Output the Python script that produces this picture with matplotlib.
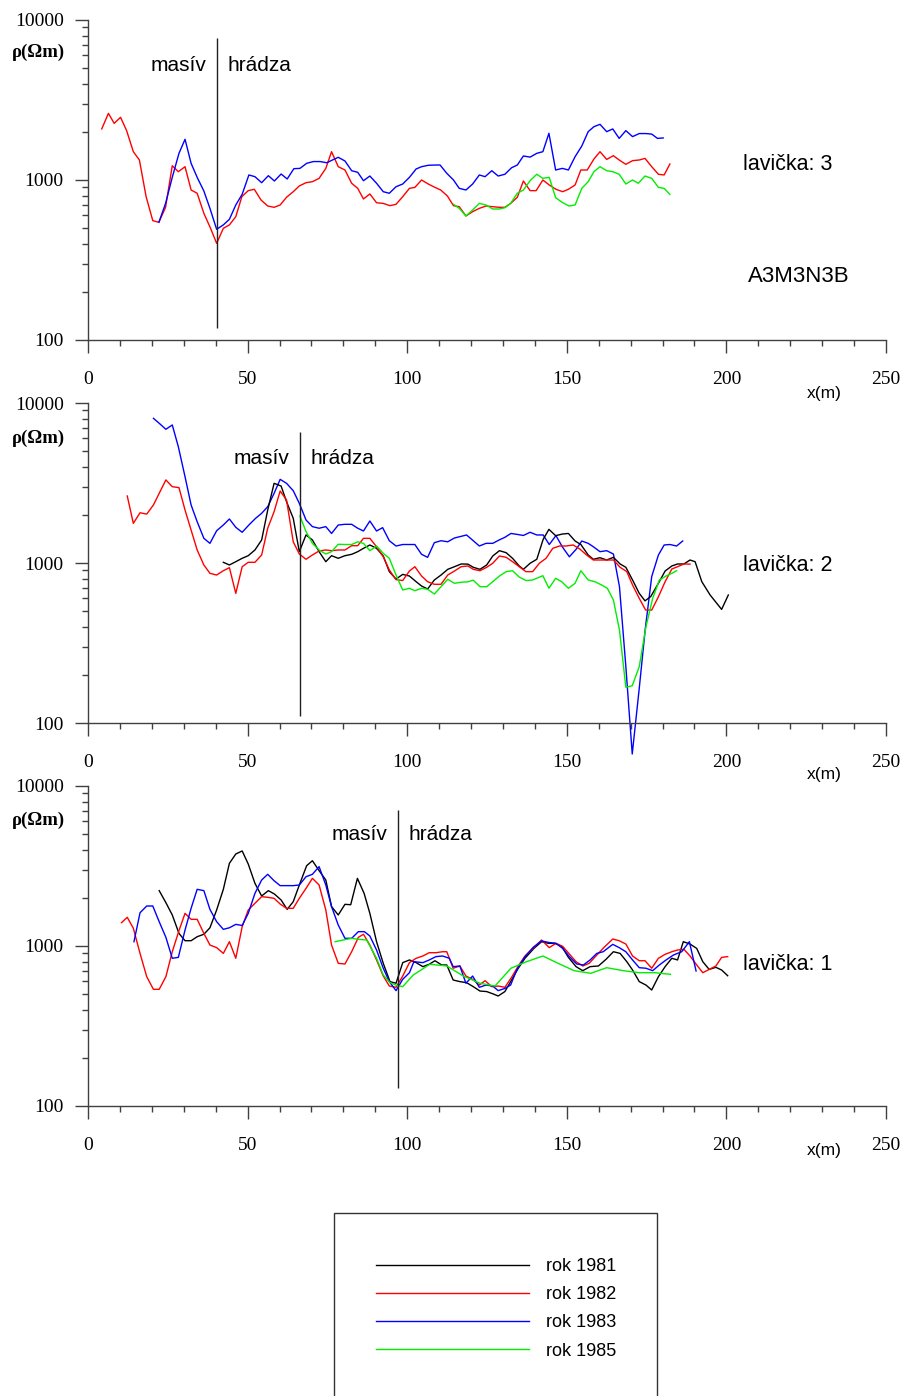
import matplotlib
matplotlib.use("Agg")
import matplotlib.pyplot as plt
from matplotlib.patches import Rectangle
from matplotlib.ticker import FixedLocator, MultipleLocator, NullFormatter, LogLocator

# ---------------- data ----------------
years = ["rok 1981", "rok 1982", "rok 1983", "rok 1985"]
year_colors = ["#000000", "#ff0000", "#0000ff", "#00ee00"]

# lavička 3 (top panel)
l3_x_1982 = [4.3,6.4,8.2,10.2,12.1,14.2,16.1,18.2,20.3,22.2,
             24.3,26.4,28.3,30.4,32.3,34.2,36.3,38.4,40.3,42.4,
             44.3,46.3,48.2,50.2,52.1,54.2,56.3,58.3,60.2,62.2,
             64.3,66.2,68.3,70.3,72.4,74.5,76.3,78.4,80.5,82.6,
             84.5,86.3,88.3,90.4,92.5,94.6,96.5,98.6,100.7,102.4,
             104.5,106.6,108.7,110.5,112.6,114.5,116.3,118.4,120.5,122.6,
             124.7,126.8,128.9,130.6,132.4,134.5,136.4,138.5,140.4,142.5,
             144.5,146.6,148.7,150.5,152.6,154.4,156.4,158.5,160.4,162.5,
             164.6,166.4,168.5,170.6,172.7,174.5,176.6,178.7,180.5,182.3]
l3_y_1982 = [2085,2610,2260,2465,2034,1503,1334,787,557,544,
             675,1228,1127,1211,866,826,619,499,402,499,
             524,590,787,858,875,750,688,675,698,780,
             845,918,962,976,1024,1182,1503,1211,1155,954,
             887,761,818,721,714,691,705,787,887,899,
             1000,944,899,866,794,691,681,596,634,665,
             688,681,675,675,714,780,986,858,858,1000,
             931,875,845,875,931,1155,1155,1352,1503,1345,
             1419,1334,1253,1321,1334,1365,1211,1086,1075,1259]
l3_x_1983 = [22.2,24.3,26.4,28.5,30.4,32.3,34.2,36.3,38.2,40.3,
             42.4,44.3,46.3,48.3,50.4,52.3,54.4,56.5,58.4,60.5,
             62.4,64.5,66.4,68.5,70.6,72.7,74.8,76.6,78.4,80.5,
             82.6,84.5,86.3,88.3,90.4,92.5,94.4,96.5,98.6,100.7,
             102.8,104.5,106.6,108.5,110.3,112.4,114.5,116.3,118.4,120.5,
             122.6,124.4,126.5,128.5,130.6,132.7,134.5,136.4,138.5,140.6,
             142.5,144.4,146.5,148.6,150.5,152.6,154.7,156.7,158.5,160.4,
             162.5,164.4,166.4,168.5,170.6,172.7,174.8,176.6,178.4,180.2]
l3_y_1983 = [544,714,1039,1468,1796,1271,1039,853,665,492,
             524,568,698,814,1075,1049,962,1064,986,1090,
             1015,1177,1182,1271,1304,1304,1282,1334,1386,1315,
             1143,1117,990,1059,954,845,826,908,944,1039,
             1172,1211,1236,1240,1241,1101,1000,887,866,944,
             1075,1049,1143,1059,1086,1193,1241,1413,1390,1468,
             1503,1958,1155,1182,1155,1399,1631,2005,2154,2228,
             2005,2085,1820,2034,1867,1951,1951,1936,1820,1832]
l3_x_1985 = [114.5,116.3,118.4,120.5,122.6,124.7,126.8,128.9,130.6,132.4,
             134.5,136.4,138.5,140.6,142.5,144.5,146.5,148.6,150.7,152.6,
             154.7,156.7,158.5,160.4,162.5,164.4,166.4,168.5,170.6,172.4,
             174.5,176.6,178.7,180.5,182.3]
l3_y_1985 = [705,665,596,649,714,698,659,659,671,714,
             826,866,990,1086,1024,1039,775,724,688,698,
             887,976,1127,1211,1143,1127,1086,944,1000,954,
             1059,1024,899,887,813]

# lavička 2 (middle panel)
l2_x_1981 = [42.4,44.3,46.3,48.3,50.2,52.3,54.4,56.3,58.3,60.5,
             62.2,64.3,66.2,68.3,70.3,72.4,74.5,76.3,78.4,80.5,
             82.6,84.5,86.3,88.3,90.4,92.5,94.4,96.5,98.6,100.7,
             102.8,104.5,106.4,108.5,110.6,112.7,114.8,116.9,119.0,120.7,
             122.8,124.9,126.8,128.9,131.0,133.0,135.1,136.4,138.5,140.6,
             142.6,144.4,146.5,148.6,150.5,152.6,154.4,156.7,158.3,160.4,
             162.5,164.6,166.7,168.5,170.6,172.7,174.5,176.3,178.7,180.8,
             182.9,184.7,186.7,188.6,190.2,192.3,194.9,198.5,200.6]
l2_y_1981 = [1010,972,1019,1070,1111,1206,1393,2143,3148,3027,
             2416,1902,1177,1497,1393,1177,1019,1111,1070,1111,
             1133,1177,1235,1296,1235,1106,883,794,849,829,
             764,718,688,783,841,913,948,986,984,940,
             913,972,1106,1194,1160,1070,958,913,996,1055,
             1406,1623,1482,1517,1530,1372,1305,1122,1055,1079,
             1044,1085,986,940,783,646,580,617,747,891,
             958,986,986,1044,1019,764,631,513,631]
l2_x_1982 = [12.3,14.2,16.3,18.4,20.5,22.3,24.4,26.4,28.5,30.4,
             32.3,34.2,36.3,38.2,40.3,42.4,44.3,46.3,48.3,50.2,
             52.3,54.4,56.3,58.3,60.2,62.2,64.3,66.2,68.3,70.3,
             72.4,74.5,76.3,78.4,80.5,82.6,84.5,86.3,88.3,90.4,
             92.5,94.4,96.5,98.6,100.7,102.4,104.5,106.4,108.5,110.6,
             112.7,114.8,116.9,119.0,120.7,122.8,124.9,126.8,128.9,131.0,
             133.0,135.1,137.2,139.3,141.4,143.5,145.6,147.7,149.7,152.0,
             154.1,156.2,158.3,160.4,162.5,164.6,166.7,168.8,170.6,172.7,
             174.7,176.6,178.7,180.8,182.9,184.7,186.7,188.6]
l2_y_1982 = [2624,1770,2060,2022,2305,2725,3306,2999,2958,2143,
             1607,1206,972,862,841,895,935,646,948,1010,
             1010,1122,1649,2093,2818,2477,1357,1138,1055,1122,
             1189,1206,1194,1206,1206,1283,1283,1426,1426,1264,
             1094,904,787,777,891,948,829,764,736,736,
             841,891,948,958,913,895,940,996,1106,1085,
             1019,948,883,883,996,1070,1235,1277,1277,1296,
             1222,1122,1044,1044,1044,1044,940,883,729,601,
             508,508,615,764,917,948,986,984]
l2_x_1983 = [20.5,22.3,24.4,26.4,28.3,30.4,32.3,34.2,36.3,38.2,
             40.3,42.4,44.3,46.3,48.3,50.4,52.5,54.4,56.3,58.3,
             60.2,62.2,64.3,66.2,68.3,70.3,72.4,74.5,76.3,78.4,
             80.5,82.6,84.5,86.3,88.3,90.4,92.3,94.4,96.5,98.6,
             100.5,102.4,104.5,106.4,108.5,110.6,112.7,114.8,116.8,118.6,
             120.7,122.6,124.7,126.8,128.9,130.6,132.5,134.3,136.4,138.5,
             140.6,142.6,144.5,146.6,148.7,150.8,152.9,154.7,156.7,158.3,
             160.4,162.5,164.6,166.5,168.5,170.5,172.7,174.6,176.6,178.7,
             180.5,182.3,184.4,186.3]
l2_y_1983 = [8020,7470,6850,7290,5330,3460,2305,1812,1426,1327,
             1591,1728,1884,1671,1556,1728,1902,2044,2249,2725,
             3333,3148,2830,2360,1857,1688,1649,1688,1530,1728,
             1745,1745,1649,1585,1830,1585,1663,1378,1277,1305,
             1305,1305,1133,1085,1340,1378,1357,1433,1466,1497,
             1378,1277,1327,1327,1396,1447,1530,1511,1486,1556,
             1497,1497,1305,1483,1253,1094,1217,1372,1327,1264,
             1177,1194,1138,711,225,64,165,390,822,1122,
             1296,1305,1277,1372]
l2_x_1985 = [66.4,68.3,70.3,72.4,74.5,76.3,78.4,80.5,82.6,84.5,
             86.3,88.3,90.4,92.5,94.4,96.5,98.6,100.7,102.4,104.5,
             106.4,108.5,110.6,112.7,114.8,116.9,119.0,120.7,122.8,124.9,
             126.8,128.9,131.0,133.0,135.1,137.2,139.3,142.5,144.4,
             146.5,148.4,150.5,152.6,154.4,156.7,158.8,160.9,162.7,164.6,
             166.5,168.5,170.5,172.7,174.8,176.9,179.0,181.1,182.9,184.4]
l2_y_1985 = [1967,1572,1327,1206,1138,1177,1309,1305,1305,1357,
             1327,1194,1277,1149,1070,841,678,695,671,695,
             685,640,711,791,747,758,763,781,711,711,
             764,829,883,895,817,777,783,833,695,
             802,764,695,747,895,783,764,729,695,587,
             381,167,171,225,400,601,783,829,862,895]

# lavička 1 (bottom panel)
l1_x_1981 = [22.3,24.4,26.4,28.5,30.4,32.3,34.2,36.3,38.2,40.3,
             42.4,44.3,46.3,48.3,50.2,52.3,54.4,56.5,58.4,60.5,
             62.4,64.3,66.4,68.5,70.3,72.4,74.5,76.3,78.4,80.5,
             82.3,84.4,86.5,88.3,90.4,92.5,94.6,96.5,98.6,100.7,
             102.8,104.9,106.9,108.7,110.8,112.4,114.4,116.5,118.6,120.7,
             122.8,124.9,127.0,128.5,130.6,132.7,134.8,136.9,139.7,142.1,
             144.2,146.3,148.4,150.5,152.9,155.0,157.3,159.9,162.3,164.6,
             166.7,168.8,170.6,172.7,174.8,176.6,178.7,180.8,182.9,184.7,
             186.5,188.6,190.7,192.6,194.6,196.7,198.5,200.4]
l1_y_1981 = [2218,1866,1563,1199,1079,1079,1143,1184,1300,1679,
             2261,3288,3758,3926,3254,2464,2054,2218,2113,1939,
             1694,1893,2464,3176,3412,2958,2585,1763,1563,1822,
             1811,2647,2133,1600,1064,779,599,585,787,818,
             787,743,769,809,761,761,613,599,590,557,
             523,519,501,487,519,613,726,838,966,1064,
             1039,1039,995,849,743,701,743,750,826,921,
             899,798,708,599,570,531,643,743,838,818,
             1064,1029,966,798,714,736,708,652]
l1_x_1982 = [10.5,12.3,14.2,16.3,18.4,20.5,22.3,24.4,26.4,28.5,
             30.4,32.3,34.2,36.3,38.2,40.3,42.4,44.3,46.3,48.3,
             50.2,52.3,54.4,56.3,58.3,60.2,62.2,64.3,66.2,68.3,
             70.3,72.4,74.5,76.3,78.4,80.5,82.6,84.7,86.3,88.3,
             90.4,92.5,94.4,96.5,98.6,100.7,102.8,104.9,106.9,109.0,
             111.1,112.4,114.4,116.5,118.4,120.5,122.6,124.4,126.5,128.5,
             130.6,132.7,134.8,136.9,139.7,142.1,144.5,146.6,148.7,150.8,
             152.9,155.0,157.0,159.4,161.7,164.4,166.4,168.5,170.6,172.7,
             174.5,176.6,178.7,180.8,182.9,184.7,186.7,188.6,190.7,192.6,
             194.6,196.7,198.5,200.4]
l1_y_1982 = [1399,1511,1291,899,643,536,536,643,921,1247,
             1600,1468,1468,1199,1014,977,899,1064,838,1321,
             1679,1849,2034,2015,1986,1830,1720,1720,1986,2291,
             2647,2405,1679,1014,779,772,921,1133,1184,1014,
             818,649,562,552,649,787,838,866,908,908,
             921,921,726,750,649,619,570,607,557,562,
             552,637,750,866,982,1090,977,1039,995,891,
             798,750,779,878,982,1106,1079,1029,866,809,
             809,726,838,887,921,944,953,866,761,681,
             714,750,849,858]
l1_x_1983 = [14.4,16.3,18.4,20.3,22.3,24.4,26.4,28.3,30.4,32.3,
             34.2,36.3,38.2,40.3,42.4,44.3,46.3,48.3,50.2,52.3,
             54.4,56.3,58.3,60.2,62.2,64.3,66.2,68.3,70.3,72.4,
             74.5,76.3,78.4,80.5,82.6,84.7,86.6,88.3,90.4,92.5,
             94.4,96.5,98.6,100.7,102.1,104.9,106.9,109.0,111.1,113.2,
             114.4,116.5,118.4,120.5,122.6,124.7,126.8,128.5,130.6,132.4,
             134.3,136.9,139.5,142.1,144.5,146.6,148.7,150.8,153.1,155.2,
             157.3,159.4,161.4,164.4,166.4,168.5,170.6,172.7,174.8,176.9,
             179.0,181.1,183.4,186.0,188.4,190.5]
l1_y_1983 = [1064,1614,1778,1778,1419,1133,838,849,1259,1720,
             2261,2218,1694,1419,1271,1300,1365,1344,1600,2133,
             2585,2806,2558,2384,2384,2384,2405,2710,2806,3133,
             2405,1763,1352,1117,1117,1229,1229,1155,944,726,
             599,526,619,681,798,787,818,858,866,838,
             743,750,585,649,552,570,562,526,543,570,
             708,858,982,1075,1051,1039,966,858,772,761,
             818,899,921,1024,977,921,818,732,726,701,
             761,818,878,921,1064,698]
l1_x_1985 = [77.4,80.0,82.6,84.7,87.3,90.4,92.5,94.6,96.5,98.6,
             101.9,107.1,112.4,117.6,122.8,127.5,132.5,137.4,142.5,147.3,
             152.3,157.5,162.5,167.7,172.7,177.6,182.5]
l1_y_1985 = [1064,1090,1117,1101,1090,838,659,590,570,557,
             659,769,750,649,585,562,726,798,866,779,
             701,675,732,701,681,681,665]

panel_names = ["lavička: 3", "lavička: 2", "lavička: 1"]
divider_x = [40.4, 66.4, 97.1]
divider_top = [7720, 6590, 7080]
divider_bottom = [119, 111, 130]
x_ticks = [0, 50, 100, 150, 200, 250]
y_ticks = [100, 1000, 10000]

series = [
    [(l3_x_1982, l3_y_1982, 1), (l3_x_1983, l3_y_1983, 2), (l3_x_1985, l3_y_1985, 3)],
    [(l2_x_1983, l2_y_1983, 2), (l2_x_1981, l2_y_1981, 0), (l2_x_1982, l2_y_1982, 1), (l2_x_1985, l2_y_1985, 3)],
    [(l1_x_1981, l1_y_1981, 0), (l1_x_1982, l1_y_1982, 1), (l1_x_1983, l1_y_1983, 2), (l1_x_1985, l1_y_1985, 3)],
]

# ---------------- figure ----------------
W, H = 906, 1396
fig = plt.figure(figsize=(W / 100, H / 100), dpi=100)

serif = ["Liberation Serif", "DejaVu Serif"]
sans = ["Liberation Sans", "DejaVu Sans"]
spine_c = "#404040"

panel_px = [(20, 340), (403, 723), (786, 1106)]
masiv_yf = [0.859, 0.828, 0.847]
lav_yf = [0.547, 0.491, 0.441]
xm_yf = [-0.166, -0.1625, -0.14]
rho_yf = [0.90, 0.89, 0.894]

legend_lines = {}
for i in range(3):
    top, bot = panel_px[i]
    ax = fig.add_axes([88 / W, 1 - bot / H, 798 / W, (bot - top) / H])
    for (xs, ys, k) in series[i]:
        ln, = ax.plot(xs, ys, color=year_colors[k], lw=1.0, clip_on=False)
        legend_lines[k] = ln
    ax.set_yscale("log")
    ax.set_xlim(0, 250)
    ax.set_ylim(100, 10000)
    for s in ["top", "right"]:
        ax.spines[s].set_visible(False)
    for s in ["left", "bottom"]:
        ax.spines[s].set_color(spine_c)
        ax.spines[s].set_linewidth(1.0)
    ax.xaxis.set_major_locator(FixedLocator(x_ticks))
    ax.xaxis.set_minor_locator(MultipleLocator(10))
    ax.set_xticklabels([str(t) for t in x_ticks])
    ax.yaxis.set_major_locator(FixedLocator(y_ticks))
    ax.yaxis.set_minor_locator(LogLocator(base=10, subs=range(2, 10)))
    ax.yaxis.set_minor_formatter(NullFormatter())
    ax.set_yticklabels([str(t) for t in y_ticks])
    ax.tick_params(axis="x", which="major", direction="out", length=9, width=1,
                   color=spine_c, pad=13)
    ax.tick_params(axis="x", which="minor", direction="out", length=4.5, width=1,
                   color=spine_c)
    ax.tick_params(axis="y", which="major", direction="out", length=9.5, width=1,
                   color=spine_c, pad=8)
    ax.tick_params(axis="y", which="minor", direction="out", length=4.5, width=1,
                   color=spine_c)
    for lab in ax.get_xticklabels() + ax.get_yticklabels():
        lab.set_fontfamily(serif)
        lab.set_fontsize(14)
    ax.patch.set_alpha(0)

    ax.vlines(divider_x[i], divider_bottom[i], divider_top[i], color="#202020", lw=1.0)
    ax.text(divider_x[i] - 3.2, masiv_yf[i], "masív", transform=ax.get_xaxis_transform(),
            ha="right", va="center", fontsize=15, family=sans)
    ax.text(divider_x[i] + 3.3, masiv_yf[i], "hrádza", transform=ax.get_xaxis_transform(),
            ha="left", va="center", fontsize=15, family=sans)
    ax.text(205.2, lav_yf[i], panel_names[i], transform=ax.get_xaxis_transform(),
            ha="left", va="center", fontsize=15.5, family=sans)
    ax.text(230.6, xm_yf[i], "x(m)", transform=ax.get_xaxis_transform(),
            ha="center", va="center", fontsize=12.5, family=sans)
    ax.text(-0.095, rho_yf[i], "ρ(Ωm)", transform=ax.transAxes,
            ha="left", va="center", fontsize=13.5, family=serif, fontweight="bold")
    if i == 0:
        ax.text(206.8, 0.2, "A3M3N3B", transform=ax.get_xaxis_transform(),
                ha="left", va="center", fontsize=16, family=sans)

# legend box
fig.add_artist(Rectangle((334 / W, -0.01), 323 / W, 1 - 1213 / H + 0.01,
                         transform=fig.transFigure, fill=False,
                         ec="#333333", lw=1.0))
handles = [legend_lines[k] for k in range(4)]
leg = fig.legend(handles, years, loc="upper left",
                 bbox_to_anchor=(376 / W, 1 - 1258 / H),
                 frameon=False, borderpad=0, borderaxespad=0,
                 handlelength=8.5, handletextpad=0.9, labelspacing=0.62,
                 prop={"family": sans, "size": 13})

fig.savefig("out.png", dpi=100)
